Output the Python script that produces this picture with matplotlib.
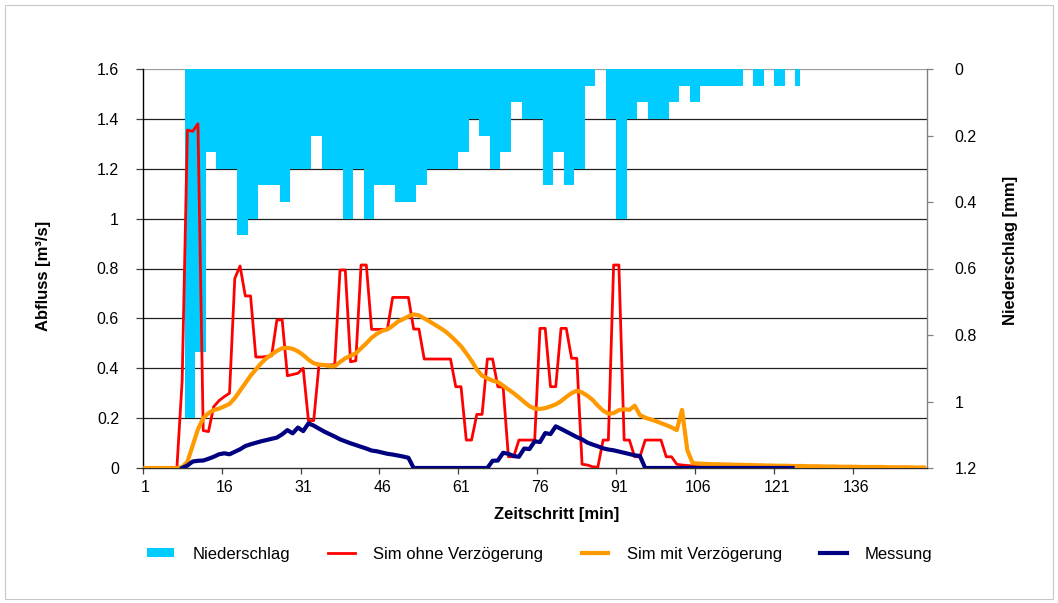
import numpy as np
import matplotlib
matplotlib.use("Agg")
import matplotlib.pyplot as plt
from matplotlib.patches import Rectangle
from matplotlib.lines import Line2D
import matplotlib.transforms as mtransforms

plt.rcParams['font.family'] = ['Liberation Sans', 'DejaVu Sans']

# ---------------- data ----------------
steps = list(range(1, 150))  # Zeitschritt categories 1..149

niederschlag = [
    0, 0, 0, 0, 0, 0, 0, 0, 1.05, 1.05,
    0.85, 0.85, 0.25, 0.25, 0.3, 0.3, 0.3, 0.3, 0.5, 0.5,
    0.45, 0.45, 0.35, 0.35, 0.35, 0.35, 0.4, 0.4, 0.3, 0.3,
    0.3, 0.3, 0.2, 0.2, 0.3, 0.3, 0.3, 0.3, 0.45, 0.45,
    0.3, 0.3, 0.45, 0.45, 0.35, 0.35, 0.35, 0.35, 0.4, 0.4,
    0.4, 0.4, 0.35, 0.35, 0.3, 0.3, 0.3, 0.3, 0.3, 0.3,
    0.25, 0.25, 0.15, 0.15, 0.2, 0.2, 0.3, 0.3, 0.25, 0.25,
    0.1, 0.1, 0.15, 0.15, 0.15, 0.15, 0.35, 0.35, 0.25, 0.25,
    0.35, 0.35, 0.3, 0.3, 0.05, 0.05, 0, 0, 0.15, 0.15,
    0.45, 0.45, 0.15, 0.15, 0.1, 0.1, 0.15, 0.15, 0.15, 0.15,
    0.1, 0.1, 0.05, 0.05, 0.1, 0.1, 0.05, 0.05, 0.05, 0.05,
    0.05, 0.05, 0.05, 0.05, 0, 0, 0.05, 0.05, 0, 0,
    0.05, 0.05, 0, 0, 0.05, 0, 0, 0, 0, 0,
    0, 0, 0, 0, 0, 0, 0, 0, 0, 0,
    0, 0, 0, 0, 0, 0, 0, 0, 0,
]

sim_ohne = [
    0, 0, 0, 0, 0, 0, 0, 0.35, 1.355, 1.35,
    1.38, 0.15, 0.146, 0.246, 0.27, 0.286, 0.30, 0.76, 0.81, 0.69,
    0.69, 0.445, 0.445, 0.447, 0.45, 0.593, 0.595, 0.37, 0.375, 0.38,
    0.40, 0.19, 0.19, 0.413, 0.413, 0.413, 0.415, 0.794, 0.794, 0.426,
    0.43, 0.814, 0.814, 0.556, 0.556, 0.556, 0.556, 0.684, 0.684, 0.684,
    0.684, 0.557, 0.557, 0.437, 0.437, 0.437, 0.437, 0.437, 0.437, 0.326,
    0.326, 0.112, 0.112, 0.215, 0.215, 0.437, 0.437, 0.326, 0.324, 0.045,
    0.045, 0.112, 0.112, 0.112, 0.112, 0.56, 0.56, 0.326, 0.326, 0.56,
    0.56, 0.44, 0.44, 0.015, 0.012, 0.005, 0.003, 0.112, 0.112, 0.814,
    0.814, 0.112, 0.112, 0.045, 0.045, 0.112, 0.112, 0.112, 0.112, 0.045,
    0.045, 0.015, 0.012, 0.01, 0.008, 0.006, 0.005, 0.004, 0.003, 0.003,
    0.002, 0.002, 0.002, 0.001, 0.001, 0.001, 0.001, 0.001, 0, 0,
    0, 0, 0, 0, 0, 0, 0, 0, 0, 0,
    0, 0, 0, 0, 0, 0, 0, 0, 0, 0,
    0, 0, 0, 0, 0, 0, 0, 0, 0,
]

sim_mit = [
    0, 0, 0, 0, 0, 0, 0, 0.003, 0.025, 0.09,
    0.155, 0.2, 0.22, 0.232, 0.238, 0.247, 0.257, 0.28, 0.31, 0.34,
    0.37, 0.395, 0.42, 0.44, 0.455, 0.47, 0.48, 0.482, 0.478, 0.468,
    0.453, 0.435, 0.42, 0.415, 0.413, 0.408, 0.408, 0.425, 0.44, 0.45,
    0.46, 0.48, 0.50, 0.522, 0.538, 0.55, 0.556, 0.57, 0.587, 0.597,
    0.608, 0.616, 0.612, 0.60, 0.588, 0.575, 0.562, 0.548, 0.53, 0.51,
    0.488, 0.46, 0.43, 0.395, 0.37, 0.36, 0.35, 0.345, 0.33, 0.315,
    0.30, 0.283, 0.265, 0.248, 0.238, 0.237, 0.24, 0.247, 0.255, 0.268,
    0.285, 0.30, 0.31, 0.303, 0.29, 0.273, 0.25, 0.23, 0.218, 0.22,
    0.232, 0.236, 0.233, 0.25, 0.212, 0.202, 0.195, 0.188, 0.18, 0.172,
    0.163, 0.152, 0.233, 0.072, 0.02, 0.018, 0.017, 0.016, 0.015, 0.015,
    0.014, 0.014, 0.013, 0.013, 0.012, 0.012, 0.011, 0.011, 0.01, 0.01,
    0.009, 0.009, 0.009, 0.008, 0.008, 0.008, 0.007, 0.007, 0.007, 0.006,
    0.006, 0.006, 0.005, 0.005, 0.005, 0.005, 0.004, 0.004, 0.004, 0.004,
    0.004, 0.003, 0.003, 0.003, 0.003, 0.003, 0.002, 0.002, 0.002,
]

nan = float('nan')
messung = [
    nan, nan, nan, nan, nan, nan, nan, 0, 0.01, 0.026,
    0.029, 0.03, 0.037, 0.045, 0.055, 0.059, 0.055, 0.065, 0.075, 0.088,
    0.095, 0.101, 0.107, 0.112, 0.117, 0.122, 0.135, 0.152, 0.139, 0.162,
    0.148, 0.179, 0.170, 0.158, 0.146, 0.136, 0.126, 0.115, 0.107, 0.099,
    0.092, 0.085, 0.078, 0.070, 0.067, 0.062, 0.057, 0.054, 0.050, 0.046,
    0.041, 0, 0, 0, 0, 0, 0, 0, 0, 0,
    0, 0, 0, 0, 0, 0, 0.029, 0.03, 0.061, 0.057,
    0.048, 0.045, 0.078, 0.076, 0.107, 0.104, 0.14, 0.136, 0.167, 0.157,
    0.146, 0.135, 0.124, 0.115, 0.102, 0.094, 0.087, 0.079, 0.074, 0.071,
    0.066, 0.061, 0.056, 0.051, 0.048, 0, 0, 0, 0, 0,
    0, 0, 0, 0, 0, 0, 0, 0, 0, 0,
    0, 0, 0, 0, 0, 0, 0, 0, 0, 0,
    0, 0, 0, 0, nan, nan, nan, nan, nan, nan,
    nan, nan, nan, nan, nan, nan, nan, nan, nan, nan,
    nan, nan, nan, nan, nan, nan, nan, nan, nan,
]

x_tick_labels = ['1', '16', '31', '46', '61', '76', '91', '106', '121', '136']
left_ticks = [0, 0.2, 0.4, 0.6, 0.8, 1.0, 1.2, 1.4, 1.6]
left_tick_labels = ['0', '0.2', '0.4', '0.6', '0.8', '1', '1.2', '1.4', '1.6']
right_ticks = [0, 0.2, 0.4, 0.6, 0.8, 1.0, 1.2]
right_tick_labels = ['0', '0.2', '0.4', '0.6', '0.8', '1', '1.2']

# ---------------- figure ----------------
W, H = 1058, 603
fig = plt.figure(figsize=(W / 100, H / 100), dpi=100)
fig.patch.set_facecolor('white')

L, R, T, B = 142.7, 926.7, 69, 468
ax = fig.add_axes([L / W, 1 - B / H, (R - L) / W, (B - T) / H])
ax2 = ax.twinx()
ax.set_zorder(ax2.get_zorder() + 1)
ax.patch.set_visible(False)

# precipitation bars (secondary axis, inverted)
bars = ax2.bar(steps, niederschlag, width=1.0, color='#00CCFF',
               edgecolor='none', zorder=2, label='Niederschlag')
ax2.set_ylim(1.2, 0)

# horizontal gridlines (primary scale), drawn behind the bars
trans = mtransforms.blended_transform_factory(ax2.transAxes, ax.transData)
for t in left_ticks[1:]:
    col = '#9a9a9a' if t == left_ticks[-1] else '#202020'
    ax2.add_line(Line2D([0, 1], [t, t], transform=trans, color=col,
                        lw=0.9, zorder=1))

# lines
ax.plot(steps, sim_ohne, color='#FF0000', lw=2.0, label='Sim ohne Verzögerung',
        solid_joinstyle='round', zorder=3)
ax.plot(steps, sim_mit, color='#FF9900', lw=3.0, label='Sim mit Verzögerung',
        solid_joinstyle='round', zorder=4)
ax.plot(steps, messung, color='#000080', lw=3.0, label='Messung',
        solid_joinstyle='round', zorder=5)

ax.set_xlim(0.5, 149.5)
ax.set_ylim(0, 1.6)

# x ticks: labels at category centres, tick marks between categories
ax.set_xticks([1, 16, 31, 46, 61, 76, 91, 106, 121, 136])
ax.set_xticklabels(x_tick_labels, fontsize=11.5)
ax.set_xticks([0.5, 15.5, 30.5, 45.5, 60.5, 75.5, 90.5, 105.5, 120.5, 135.5],
              minor=True)
ax.tick_params(axis='x', which='major', length=0, pad=9)
ax.tick_params(axis='x', which='minor', length=4, width=0.9, color='#404040',
               direction='out')

ax.set_yticks(left_ticks)
ax.set_yticklabels(left_tick_labels, fontsize=11.5)
ax.tick_params(axis='y', length=5, width=0.9, pad=12, color='#404040')

ax2.set_yticks(right_ticks)
ax2.set_yticklabels(right_tick_labels, fontsize=11.5)
ax2.tick_params(axis='y', length=4, width=0.9, pad=16, color='#808080')

for s in ['top', 'right']:
    ax.spines[s].set_visible(False)
ax.spines['left'].set_color('#000000')
ax.spines['bottom'].set_color('#303030')
ax.spines['left'].set_linewidth(1.0)
ax.spines['bottom'].set_linewidth(1.0)
for s in ['left', 'top', 'bottom']:
    ax2.spines[s].set_visible(False)
ax2.spines['right'].set_color('#808080')
ax2.spines['right'].set_linewidth(1.0)

ax.set_ylabel('Abfluss [m³/s]', fontsize=12, fontweight='bold')
ax.yaxis.set_label_coords(-0.117, 0.481)
ax2.set_ylabel('Niederschlag [mm]', fontsize=12, fontweight='bold')
ax2.yaxis.set_label_coords(1.097, 0.546)
ax.set_xlabel('Zeitschritt [min]', fontsize=12, fontweight='bold')
ax.xaxis.set_label_coords(0.528, -0.098)

# legend
h1, l1 = ax2.get_legend_handles_labels()
h2, l2 = ax.get_legend_handles_labels()
fig.legend(h1 + h2, l1 + l2, ncol=4, loc='center',
           bbox_to_anchor=(540 / W, 1 - 554 / H), frameon=False,
           fontsize=12, handlelength=1.6, handleheight=0.5,
           handletextpad=1.1, columnspacing=2.3)

# chart-area border
fig.patches.append(Rectangle((5 / W, 4 / H), (W - 10) / W, (H - 9) / H,
                             transform=fig.transFigure, fill=False,
                             edgecolor='#c8c8c8', lw=0.8))

fig.savefig('out.png', dpi=100)
